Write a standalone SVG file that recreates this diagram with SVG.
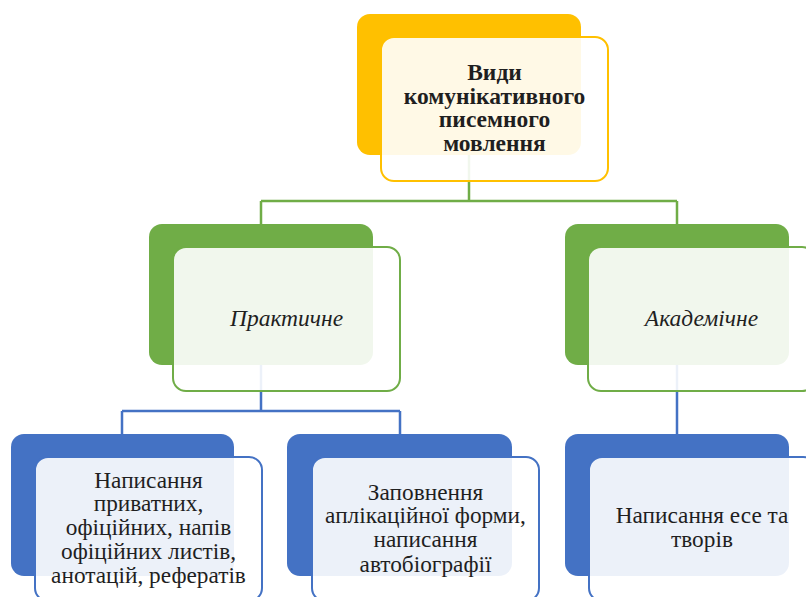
<svg xmlns="http://www.w3.org/2000/svg" width="806" height="597" viewBox="0 0 806 597">
<style>
.t{font-size:23.3px;fill:#1f1f1f;text-anchor:middle}
.b{font-weight:bold;font-size:23.5px}
.i{font-style:italic;font-size:23.5px}
.front{fill:#ffffff;fill-opacity:0.9;stroke-width:2}
.y .back{fill:#FFC000}.y .front{stroke:#FFC000}
.g .back{fill:#70AD47}.g .front{stroke:#70AD47}
.bl .back{fill:#4472C4}.bl .front{stroke:#4472C4}
.cg{fill:none;stroke:#70AD47;stroke-width:2.5}
.cb{fill:none;stroke:#4472C4;stroke-width:2.5}
</style>
<rect width="806" height="597" fill="#ffffff"/>
<g id="connectors">
<path class="cg" d="M469,155 V201 M261,201 H677 M261,201 V224 M677,201 V224"/>
<path class="cb" d="M261,365 V411 M122,411 H400 M122,411 V434 M400,411 V434 M677,365 V434"/>
</g>
<g font-family="'Liberation Serif', serif">
<g id="n-root" class="y">
<rect class="back" x="357" y="14" width="224" height="141" rx="13"/>
<rect class="front" x="381" y="37" width="227" height="144" rx="13"/>
<text class="t b"><tspan x="494.5" y="80">Види</tspan><tspan x="494.5" y="104">комунікативного</tspan><tspan x="494.5" y="127">писемного</tspan><tspan x="494.5" y="151">мовлення</tspan></text>
</g>
<g id="n-practical" class="g">
<rect class="back" x="149" y="224" width="224" height="141" rx="13"/>
<rect class="front" x="173" y="247" width="227" height="144" rx="13"/>
<text class="t i" x="286.5" y="326">Практичне</text>
</g>
<g id="n-academic" class="g">
<rect class="back" x="565" y="224" width="224" height="141" rx="13"/>
<rect class="front" x="588" y="247" width="227" height="144" rx="13"/>
<text class="t i" x="701.5" y="326">Академічне</text>
</g>
<g id="n-private" class="bl">
<rect class="back" x="11" y="434" width="223" height="142" rx="13"/>
<rect class="front" x="35" y="457" width="227" height="144" rx="13"/>
<text class="t"><tspan x="148.5" y="488">Написання</tspan><tspan x="148.5" y="511">приватних,</tspan><tspan x="148.5" y="535">офіційних, напів</tspan><tspan x="148.5" y="559">офіційних листів,</tspan><tspan x="148.5" y="583">анотацій, рефератів</tspan></text>
</g>
<g id="n-form" class="bl">
<rect class="back" x="287" y="434" width="225" height="142" rx="13"/>
<rect class="front" x="312" y="457" width="227" height="144" rx="13"/>
<text class="t"><tspan x="425.5" y="500">Заповнення</tspan><tspan x="425.5" y="523">аплікаційної форми,</tspan><tspan x="425.5" y="547">написання</tspan><tspan x="425.5" y="572">автобіографії</tspan></text>
</g>
<g id="n-essay" class="bl">
<rect class="back" x="565" y="434" width="224" height="142" rx="13"/>
<rect class="front" x="589" y="457" width="227" height="144" rx="13"/>
<text class="t"><tspan x="702" y="523">Написання есе та</tspan><tspan x="702" y="547">творів</tspan></text>
</g>
</g>
</svg>
